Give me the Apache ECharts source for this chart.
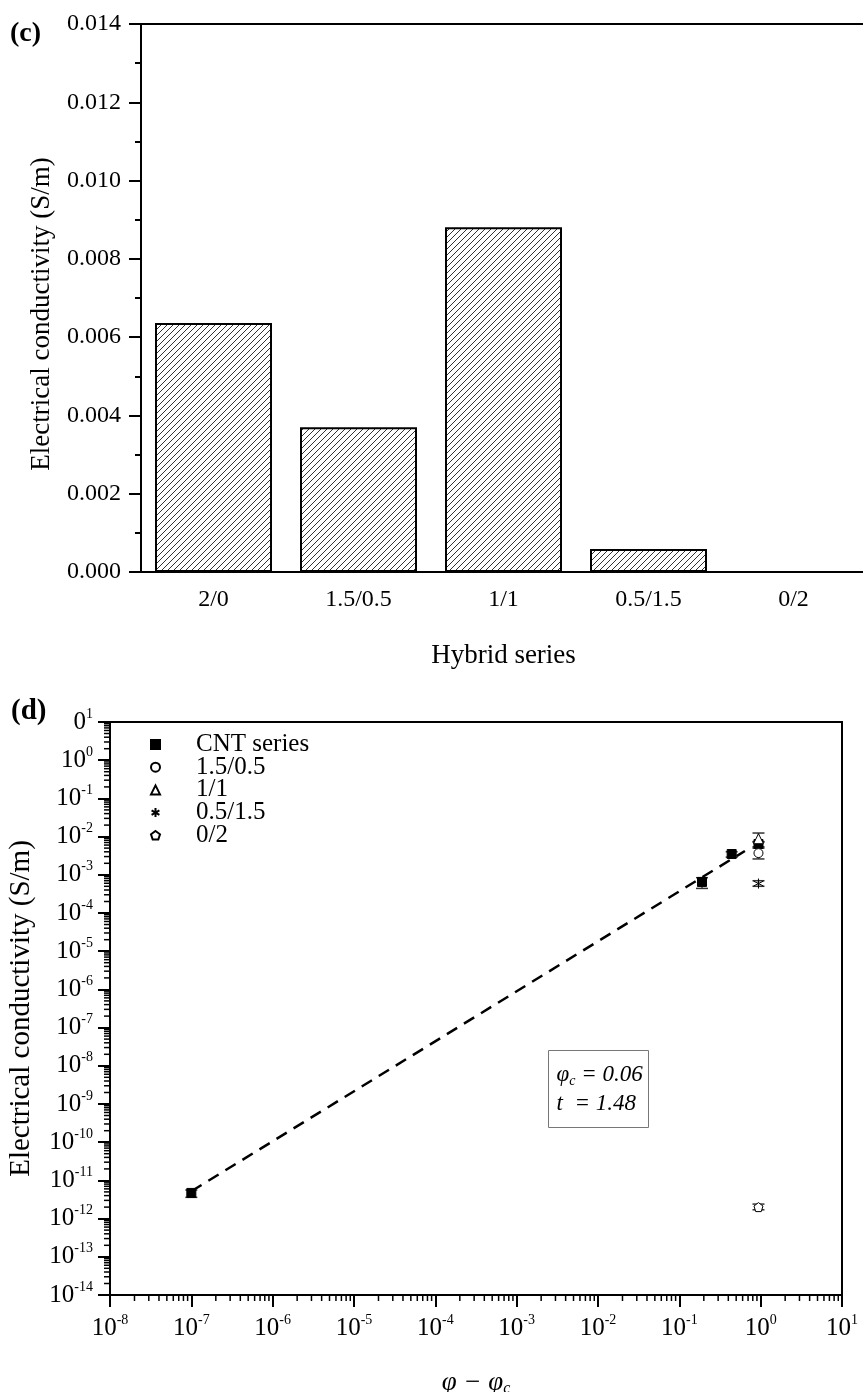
<!DOCTYPE html>
<html>
<head>
<meta charset="utf-8">
<script src="https://cdn.jsdelivr.net/npm/echarts@6/dist/echarts.min.js"></script>
<style>
  html, body { margin: 0; padding: 0; background: #fff; }
  #chart { width: 863px; height: 1392px; }
</style>
</head>
<body>
<div id="chart"></div>
<script>
    // (c) 混合系列柱状图
    const hybridCats = ['2/0', '1.5/0.5', '1/1', '0.5/1.5', '0/2'];
    const hybridValues = [0.00636, 0.00370, 0.00881, 0.00059, 2e-12];

    // (d) 对数图数据 [x, y, low, high]
    const cntSeries = [
        [1e-7, 4.7e-12, 3.6e-12, 5.6e-12],
        [0.19, 6.5e-4, 4.4e-4, 8.4e-4],
        [0.44, 3.5e-3, 2.9e-3, 4.0e-3],
        [0.94, 6.4e-3, 5.4e-3, 7.4e-3]
    ];
    const s1505 = [[0.94, 3.7e-3, 2.6e-3, 5.0e-3]];
    const s11 = [[0.94, 8.8e-3, 7.2e-3, 1.24e-2]];
    const s0515 = [[0.94, 5.9e-4, 5.0e-4, 7.0e-4]];
    const s02 = [[0.94, 2.0e-12, 1.7e-12, 2.4e-12]];
    const fitLine = [[1e-7, 5.2e-12], [0.64, 4.2e-3]];

    const serif = 'Liberation Serif';
    const chart = echarts.init(document.getElementById('chart'));

    function hatch() {
        const c = document.createElement('canvas');
        c.width = 6;
        c.height = 6;
        const g = c.getContext('2d');
        g.fillStyle = '#fff';
        g.fillRect(0, 0, 6, 6);
        g.strokeStyle = '#333';
        g.lineWidth = 1;
        g.beginPath();
        g.moveTo(0, 6); g.lineTo(6, 0);
        g.moveTo(-1, 1); g.lineTo(1, -1);
        g.moveTo(5, 7); g.lineTo(7, 5);
        g.stroke();
        return c;
    }

    // 对数轴次刻度 (2..9)
    const minorX = [];
    for (let e = -8; e < 1; e++) {
        for (let m = 2; m <= 9; m++) minorX.push([m * Math.pow(10, e), 1e-14]);
    }
    const minorY = [];
    for (let e = -14; e < 1; e++) {
        for (let m = 2; m <= 9; m++) minorY.push([1e-8, m * Math.pow(10, e)]);
    }

    const logLabel = v => {
        const e = Math.round(Math.log10(v));
        if (e === 1) return '{b|0}{s|1}';
        return '{b|10}{s|' + e + '}';
    };
    const logXLabel = v => '{b|10}{s|' + Math.round(Math.log10(v)) + '}';
    const logRich = {
        b: { fontSize: 25, fontFamily: serif, color: '#000' },
        s: { fontSize: 14, fontFamily: serif, color: '#000', padding: [0, 0, 16, 0] }
    };

    const errItem = (params, api) => {
        const x = api.value(0);
        const lo = api.coord([x, api.value(2)]);
        const hi = api.coord([x, api.value(3)]);
        const w = 6;
        return {
            type: 'group',
            children: [
                { type: 'line', shape: { x1: lo[0], y1: lo[1], x2: hi[0], y2: hi[1] }, style: { stroke: '#333', lineWidth: 1.3 } },
                { type: 'line', shape: { x1: lo[0] - w, y1: lo[1], x2: lo[0] + w, y2: lo[1] }, style: { stroke: '#333', lineWidth: 1.5 } },
                { type: 'line', shape: { x1: hi[0] - w, y1: hi[1], x2: hi[0] + w, y2: hi[1] }, style: { stroke: '#333', lineWidth: 1.5 } }
            ]
        };
    };

    const asterisk = 'path://M0,-1L0,1M-0.87,-0.5L0.87,0.5M-0.87,0.5L0.87,-0.5';
    const pentagon = 'path://M0,-1L0.951,-0.309L0.588,0.809L-0.588,0.809L-0.951,-0.309Z';

    const scatter = (name, data, symbol, size, filled) => ({
        name,
        type: 'scatter',
        xAxisIndex: 2,
        yAxisIndex: 1,
        symbol,
        symbolSize: size,
        data: data.map(d => [d[0], d[1]]),
        itemStyle: {
            color: filled ? '#000' : '#fff',
            borderColor: '#000',
            borderWidth: 1,
            opacity: 1
        },
        z: 5
    });

    const errSeries = data => ({
        type: 'custom',
        xAxisIndex: 2,
        yAxisIndex: 1,
        data,
        renderItem: errItem,
        silent: true,
        z: 3
    });

    const option = {
        animation: false,
        backgroundColor: '#fff',
        grid: [
            { left: 141, top: 24, right: -3, bottom: 820, outerBoundsMode: 'none', show: true, borderColor: '#000', borderWidth: 2 },
            { left: 110, top: 722, right: 21, bottom: 97, outerBoundsMode: 'none', show: true, borderColor: '#000', borderWidth: 2 }
        ],
        legend: {
            data: ['CNT series', '1.5/0.5', '1/1', '0.5/1.5', '0/2'],
            orient: 'vertical',
            left: 150,
            top: 732,
            itemWidth: 9,
            itemHeight: 9,
            itemGap: -2.3,
            padding: 0,
            selectedMode: false,
            textStyle: { fontFamily: serif, fontSize: 25, lineHeight: 23, color: '#000', padding: [0, 0, 0, 31] }
        },
        xAxis: [
            {
                type: 'category',
                gridIndex: 0,
                data: hybridCats,
                name: 'Hybrid series',
                nameLocation: 'middle',
                nameGap: 70,
                nameTextStyle: { fontFamily: serif, fontSize: 27, color: '#000' },
                axisLine: { lineStyle: { color: '#000', width: 2 } },
                axisTick: { alignWithLabel: true, length: 11, lineStyle: { color: '#000', width: 2 } },
                axisLabel: { fontFamily: serif, fontSize: 24, color: '#000', margin: 16 },
                splitLine: { show: false }
            },
            {
                type: 'category',
                gridIndex: 0,
                data: hybridCats,
                axisLine: { show: false },
                axisTick: { length: 6, lineStyle: { color: '#000', width: 2 } },
                axisLabel: { show: false },
                splitLine: { show: false }
            },
            {
                type: 'log',
                gridIndex: 1,
                logBase: 10,
                min: 1e-8,
                max: 10,
                interval: 1,
                name: '{i|φ − φ}{sub|c}',
                nameLocation: 'middle',
                nameGap: 74,
                nameTextStyle: {
                    rich: {
                        i: { fontFamily: serif, fontStyle: 'italic', fontSize: 27, color: '#000' },
                        sub: { fontFamily: serif, fontStyle: 'italic', fontSize: 16, color: '#000', padding: [12, 0, 0, 0] }
                    }
                },
                axisLine: { lineStyle: { color: '#000', width: 2 } },
                axisTick: { length: 12, lineStyle: { color: '#000', width: 2 } },
                axisLabel: { formatter: logXLabel, rich: logRich, margin: 18 },
                splitLine: { show: false }
            }
        ],
        yAxis: [
            {
                type: 'value',
                gridIndex: 0,
                min: 0,
                max: 0.014,
                interval: 0.002,
                name: 'Electrical conductivity (S/m)',
                nameLocation: 'middle',
                nameGap: 86,
                nameTextStyle: { fontFamily: serif, fontSize: 27, color: '#000', padding: [0, 32, 0, 0] },
                axisLine: { show: true, lineStyle: { color: '#000', width: 2 } },
                axisTick: { show: true, length: 12, lineStyle: { color: '#000', width: 2 } },
                minorTick: { show: true, splitNumber: 2, length: 6, lineStyle: { color: '#000', width: 2 } },
                axisLabel: { formatter: v => v.toFixed(3), fontFamily: serif, fontSize: 24, color: '#000', margin: 20 },
                splitLine: { show: false }
            },
            {
                type: 'log',
                gridIndex: 1,
                logBase: 10,
                min: 1e-14,
                max: 10,
                interval: 1,
                name: 'Electrical conductivity (S/m)',
                nameLocation: 'middle',
                nameGap: 74,
                nameTextStyle: { fontFamily: serif, fontSize: 29, color: '#000' },
                axisLine: { show: true, lineStyle: { color: '#000', width: 2 } },
                axisTick: { show: true, length: 12, lineStyle: { color: '#000', width: 2 } },
                axisLabel: { formatter: logLabel, rich: logRich, margin: 17 },
                splitLine: { show: false }
            }
        ],
        series: [
            {
                type: 'bar',
                xAxisIndex: 0,
                yAxisIndex: 0,
                data: hybridValues,
                barWidth: 117,
                itemStyle: {
                    color: { image: hatch(), repeat: 'repeat' },
                    borderColor: '#000',
                    borderWidth: 2
                }
            },
            {
                type: 'custom',
                xAxisIndex: 2,
                yAxisIndex: 1,
                data: minorX,
                silent: true,
                renderItem: (params, api) => {
                    const p = api.coord([api.value(0), api.value(1)]);
                    return { type: 'line', shape: { x1: p[0], y1: p[1], x2: p[0], y2: p[1] + 6 }, style: { stroke: '#000', lineWidth: 1.5 } };
                }
            },
            {
                type: 'custom',
                xAxisIndex: 2,
                yAxisIndex: 1,
                data: minorY,
                silent: true,
                renderItem: (params, api) => {
                    const p = api.coord([api.value(0), api.value(1)]);
                    return { type: 'line', shape: { x1: p[0], y1: p[1], x2: p[0] - 6, y2: p[1] }, style: { stroke: '#000', lineWidth: 1.5 } };
                }
            },
            {
                type: 'line',
                xAxisIndex: 2,
                yAxisIndex: 1,
                data: fitLine,
                symbol: 'none',
                silent: true,
                lineStyle: { color: '#000', width: 2.5, type: [12, 8] },
                z: 2
            },
            errSeries(cntSeries),
            errSeries(s1505),
            errSeries(s11),
            errSeries(s0515),
            errSeries(s02),
            scatter('CNT series', cntSeries, 'rect', 9, true),
            scatter('1.5/0.5', s1505, 'circle', 9, false),
            scatter('1/1', s11, 'triangle', 10, false),
            scatter('0.5/1.5', s0515, asterisk, 10, false),
            scatter('0/2', s02, pentagon, 9, false)
        ],
        graphic: [
            { type: 'text', left: 10, top: 20, style: { text: '(c)', font: 'bold 28px "Liberation Serif"', fill: '#000' } },
            { type: 'text', left: 11, top: 697, style: { text: '(d)', font: 'bold 29px "Liberation Serif"', fill: '#000' } },
            {
                type: 'group',
                left: 548,
                top: 1050,
                children: [
                    { type: 'rect', shape: { x: 0, y: 0, width: 100, height: 77 }, style: { fill: '#fff', stroke: '#777', lineWidth: 1 } },
                    {
                        type: 'text',
                        x: 8,
                        y: 10,
                        style: {
                            text: '{i|φ}{sub|c}{i| = 0.06}\n{i|t  = 1.48}',
                            rich: {
                                i: { fontFamily: serif, fontStyle: 'italic', fontSize: 23, lineHeight: 29, fill: '#000' },
                                sub: { fontFamily: serif, fontStyle: 'italic', fontSize: 14, fill: '#000', padding: [12, 0, 0, 0] }
                            }
                        }
                    }
                ]
            }
        ]
    };

    chart.setOption(option);
</script>
</body>
</html>
